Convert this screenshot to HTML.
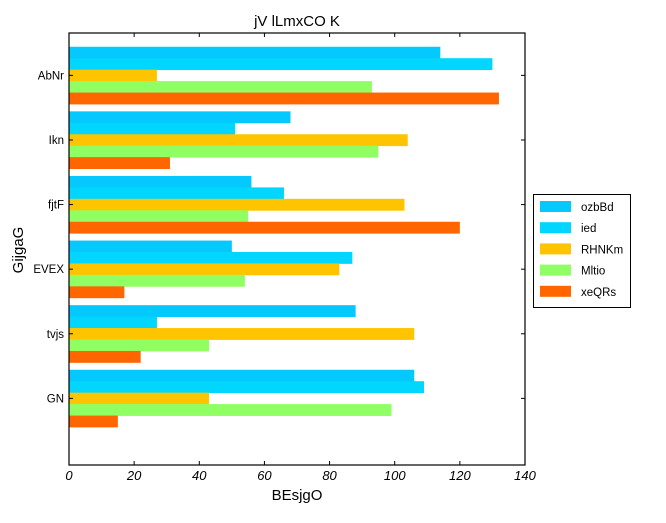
<!DOCTYPE html>
<html><head><meta charset="utf-8"><style>
body{margin:0;background:#fff}
text{font-family:"Liberation Sans","DejaVu Sans",sans-serif}
</style></head><body>
<svg id="c" width="666" height="518" viewBox="0 0 666 518" xmlns="http://www.w3.org/2000/svg">
<rect width="666" height="518" fill="#fff"/>
<text x="297" y="26" font-size="15" text-anchor="middle">jV lLmxCO K</text>
<g id="bars"></g>
<rect x="69" y="33" width="456" height="432" fill="none" stroke="#000" stroke-width="1.2"/>
<g id="ticks"></g>
<text x="297" y="500" font-size="15" text-anchor="middle">BEsjgO</text>
<text transform="translate(23,250) rotate(-90)" font-size="15" text-anchor="middle">GijgaG</text>
<g id="legend"></g>
</svg>
<script>
const categories=["GN","tvjs","EVEX","fjtF","Ikn","AbNr"];
const seriesNames=["ozbBd","ied","RHNKm","Mltio","xeQRs"];
const ozbBd=[106,88,50,56,68,114];
const ied=[109,27,87,66,51,130];
const RHNKm=[43,106,83,103,104,27];
const Mltio=[99,43,54,55,95,93];
const xeQRs=[15,22,17,120,31,132];
const xTicks=[0,20,40,60,80,100,120,140];
const series=[ozbBd,ied,RHNKm,Mltio,xeQRs];
const colors=["#05c8ff","#00d6ff","#ffc400","#90ff64","#ff6600"];
const NS="http://www.w3.org/2000/svg";
const X0=69,X1=525,XMAX=140;
const xs=v=>X0+v/XMAX*(X1-X0);
const STEP=64.6,BASE=427,BH=11.45;
const groupBase=i=>BASE-i*STEP;
function mk(t,a,p){const e=document.createElementNS(NS,t);for(const k in a)e.setAttribute(k,a[k]);p.appendChild(e);return e;}
const bars=document.getElementById('bars');
categories.forEach((c,i)=>{
  series.forEach((s,j)=>{
    const y=groupBase(i)-(5-j)*BH;
    const r=mk('rect',{x:X0,y:y,width:xs(s[i])-X0,height:BH+0.4,fill:colors[j]},bars);
    
    
  });
});
const tk=document.getElementById('ticks');
xTicks.forEach(v=>{
  const x=xs(v);
  mk('line',{x1:x,x2:x,y1:465,y2:461,stroke:'#000'},tk);
  mk('line',{x1:x,x2:x,y1:33,y2:37,stroke:'#000'},tk);
  const t=mk('text',{x:x,y:480,'font-size':13,'text-anchor':'middle','font-style':'italic','font-family':'DejaVu Sans Mono, monospace'},tk);
  t.textContent=v;
  
  
});
categories.forEach((c,i)=>{
  const y=groupBase(i)-2.5*BH;
  mk('line',{x1:69,x2:73,y1:y,y2:y,stroke:'#000'},tk);
  mk('line',{x1:525,x2:521,y1:y,y2:y,stroke:'#000'},tk);
  const t=mk('text',{x:64,y:y+4,'font-size':11.5,'text-anchor':'end'},tk);
  t.textContent=c;
  
  
});
const lg=document.getElementById('legend');
mk('rect',{x:533.5,y:194.5,width:97,height:113,fill:'#fff',stroke:'#000'},lg);
seriesNames.forEach((n,j)=>{
  const y=207+j*21.2;
  const r=mk('rect',{x:540,y:y-6,width:31,height:11,fill:colors[j]},lg);
  
  
  const t=mk('text',{x:581,y:y+4,'font-size':11.5},lg);
  t.textContent=n;
  
  
});
</script>
</body></html>
